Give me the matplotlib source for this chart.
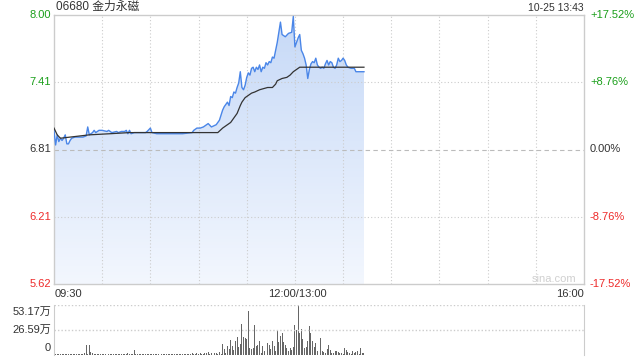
"""Intraday minute chart for 06680 (price, average price and volume)."""

import matplotlib

matplotlib.use("Agg")

import matplotlib.pyplot as plt
import numpy as np

FONT = ["Liberation Sans", "Noto Sans CJK SC", "DejaVu Sans"]
plt.rcParams["font.family"] = FONT

TITLE = "06680 金力永磁"
STAMP = "10-25 13:43"
PREV_CLOSE = 6.81
PRICE_TICKS = [8.00, 7.41, 6.81, 6.21, 5.62]
PCT_LABELS = ["+17.52%", "+8.76%", "0.00%", "-8.76%", "-17.52%"]
TIME_LABELS = ["09:30", "12:00/13:00", "16:00"]
TIME_POS = [0, 150, 330]
VOL_LABELS = ["53.17万", "26.59万", "0"]
VOL_MAX = 53.17
SESSION_MIN = 330

# minutes after 09:30 (lunch break removed) and last price
PRICE_MIN = [
    0, 1, 2, 3, 4, 5, 6, 7, 8, 9, 10, 11, 13, 15, 18, 20, 21, 22, 24, 25,
    26, 28, 30, 33, 34, 36, 39, 40, 42, 44, 45, 46, 47, 48, 50, 53, 57, 58, 60, 61,
    64, 70, 80, 86, 87, 89, 91, 93, 96, 98, 101, 103, 105, 106, 108, 109, 110, 111, 112, 113,
    114, 115, 116, 117, 118, 119, 120, 121, 122, 123, 124, 125, 126, 127, 128, 129, 130, 131, 132, 133,
    134, 135, 136, 137, 138, 139, 141, 142, 144, 146, 148, 149, 150, 151, 152, 153, 154, 155, 156, 157,
    158, 159, 160, 161, 162, 163, 164, 165, 166, 167, 168, 169, 170, 171, 172, 173, 174, 175, 176, 177,
    178, 179, 180, 181, 182, 183, 185, 187, 188, 190, 193,
]
PRICE = [
    6.98, 6.85, 6.94, 6.88, 6.91, 6.89, 6.91, 6.94, 6.86, 6.86, 6.89, 6.91, 6.92, 6.92, 6.92, 6.93, 7.01, 6.94, 6.96, 6.98,
    6.96, 6.98, 6.98, 6.97, 6.98, 6.96, 6.97, 6.96, 6.97, 6.97, 6.98, 6.95, 6.98, 6.95, 6.96, 6.96, 6.96, 6.97, 7.00, 6.96,
    6.95, 6.95, 6.95, 6.96, 6.98, 7.00, 7.00, 7.01, 7.04, 7.01, 7.03, 7.07, 7.16, 7.19, 7.23, 7.20, 7.28, 7.27, 7.32, 7.31,
    7.36, 7.40, 7.50, 7.36, 7.34, 7.38, 7.45, 7.49, 7.47, 7.53, 7.54, 7.50, 7.54, 7.52, 7.56, 7.50, 7.54, 7.53, 7.58, 7.56,
    7.59, 7.58, 7.63, 7.62, 7.69, 7.76, 7.94, 7.83, 7.81, 7.84, 7.85, 7.99, 7.72, 7.76, 7.80, 7.83, 7.69, 7.66, 7.62, 7.56,
    7.44, 7.52, 7.57, 7.59, 7.58, 7.62, 7.56, 7.54, 7.53, 7.54, 7.53, 7.57, 7.60, 7.56, 7.59, 7.58, 7.54, 7.53, 7.56, 7.62,
    7.59, 7.60, 7.62, 7.60, 7.56, 7.54, 7.53, 7.53, 7.50, 7.50, 7.50,
]

# average price line
AVG_MIN = [0, 2, 4, 10, 22, 35, 47, 66, 91, 102, 105, 110, 114, 116, 117, 119, 121, 123, 125,
           128, 133, 136, 138, 139, 142, 145, 146, 147, 149, 151, 153, 155, 193]
AVG = [7.00, 6.94, 6.91, 6.92, 6.94, 6.95, 6.96, 6.96, 6.96, 6.96, 7.00, 7.05, 7.13, 7.20, 7.23, 7.27, 7.29, 7.31, 7.32,
       7.34, 7.36, 7.36, 7.39, 7.42, 7.44, 7.45, 7.46, 7.47, 7.50, 7.52, 7.54, 7.54, 7.54]

# volume per minute, in units of 10 000 shares (minutes 0..193)
VOLUME = [
    1.2, 0.8, 0.6, 0.9, 0.5, 0.7, 0.6, 0.8, 0.5, 0.6, 0.7, 0.5, 0.8, 0.6, 0.9, 0.5, 0.6, 0.7, 1.0, 1.3,
    10.0, 0.8, 9.8, 2.9, 1.1, 0.7, 0.6, 0.8, 0.5, 0.9, 0.6, 0.7, 0.5, 0.8, 1.0, 0.6, 0.5, 0.7, 0.9, 0.6,
    0.8, 0.5, 0.7, 0.6, 0.9, 0.5, 1.1, 0.6, 0.8, 0.7, 4.7, 0.6, 0.5, 0.8, 0.7, 0.6, 0.9, 0.5, 0.7, 0.6,
    0.8, 0.6, 0.7, 0.5, 0.9, 0.6, 0.8, 0.5, 0.7, 1.0, 0.6, 0.8, 0.5, 0.7, 0.6, 0.9, 0.5, 0.8, 0.6, 0.7,
    1.0, 0.6, 0.8, 0.7, 0.9, 0.6, 1.1, 0.8, 0.7, 1.2, 0.9, 1.3, 1.0, 0.8, 1.4, 1.1, 2.5, 1.0, 1.2, 0.9,
    1.3, 1.1, 0.9, 2.2, 0.8, 11.1, 5.4, 1.8, 9.0, 5.4, 15.4, 9.0, 4.7, 14.7, 19.0, 8.3, 11.1, 32.7, 19.0, 18.0,
    16.5, 46.7, 6.5, 5.4, 6.5, 31.6, 9.0, 10.0, 14.7, 1.8, 9.0, 3.6, 3.9, 12.6, 10.0, 5.4, 14.7, 9.0, 3.9, 26.2,
    13.6, 19.7, 22.6, 13.6, 10.0, 7.5, 3.9, 7.5, 4.7, 8.3, 31.6, 26.2, 53.17, 23.3, 26.9, 16.2, 6.5, 8.3, 14.7, 30.5,
    22.6, 14.7, 8.3, 12.6, 3.9, 3.9, 17.2, 3.9, 2.2, 1.8, 5.4, 10.0, 4.7, 1.1, 1.1, 3.6, 3.6, 2.9, 1.1, 1.1,
    0.6, 6.5, 4.7, 2.9, 1.1, 0.7, 3.6, 1.1, 2.9, 3.9, 0.8, 6.5, 1.1, 1.1,
]

GREEN = "#1a9f1a"
RED = "#ee2a2a"
DARK = "#333333"
BLUE = "#4a86e8"
GRID = "#cccccc"


def _label_color(value: float) -> str:
    if value > PREV_CLOSE + 1e-9:
        return GREEN
    if value < PREV_CLOSE - 1e-9:
        return RED
    return DARK


def run() -> None:
    fig = plt.figure(figsize=(6.4, 3.6), dpi=100)
    ax = fig.add_axes([54 / 640, 1 - 284 / 360, 530 / 640, 269 / 360])
    vax = fig.add_axes([54 / 640, 1 - 354.5 / 360, 530 / 640, 49.5 / 360])

    lo = PREV_CLOSE * (1 - 0.1752)
    hi = PREV_CLOSE * (1 + 0.1752)

    # gradient fill under the price line
    poly = ax.fill_between(PRICE_MIN, PRICE, lo, color="none", linewidth=0)
    grad = np.linspace(0, 1, 256).reshape(-1, 1)
    img = ax.imshow(
        grad,
        extent=[0, SESSION_MIN, lo, max(PRICE)],
        origin="upper",
        aspect="auto",
        cmap=matplotlib.colors.LinearSegmentedColormap.from_list("f", ["#c6d9f7", "#f3f7fe"]),
        zorder=1,
    )
    img.set_clip_path(poly.get_paths()[0], transform=ax.transData)

    ax.plot(PRICE_MIN, PRICE, color=BLUE, linewidth=1.0, zorder=3)
    ax.plot(AVG_MIN, AVG, color=DARK, linewidth=0.9, zorder=4)

    ax.set_xlim(0, SESSION_MIN)
    ax.set_ylim(lo, hi)
    ax.set_xticks([])
    ax.set_yticks([])
    for x in range(30, SESSION_MIN, 30):
        ax.axvline(x, color=GRID, linestyle=(0, (1, 2)), linewidth=0.8, zorder=2)
    for y in (PRICE_TICKS[1], PRICE_TICKS[3]):
        ax.axhline(y, color=GRID, linestyle=(0, (1, 2)), linewidth=0.8, zorder=2)
    ax.axhline(PREV_CLOSE, color="#bbbbbb", linestyle=(0, (4, 3)), linewidth=0.8, zorder=2)
    for side in ax.spines.values():
        side.set_color(GRID)
        side.set_linewidth(1.0)

    for value, pct in zip(PRICE_TICKS, PCT_LABELS):
        color = _label_color(value)
        ax.text(-3 / 1.607, value, f"{value:.2f}", ha="right", va="center",
                fontsize=8, color=color, clip_on=False)
        ax.text(SESSION_MIN + 6 / 1.607, value, pct, ha="left", va="center",
                fontsize=8, color=color, clip_on=False)

    ax.text(0.003, 1.0 + 8 / 269, TITLE, transform=ax.transAxes, ha="left",
            va="center", fontsize=8.5, color=DARK)
    ax.text(1.0, 1.0 + 7 / 269, STAMP, transform=ax.transAxes, ha="right",
            va="center", fontsize=7.5, color=DARK)
    ax.text(0.985, 0.02, "sina.com", transform=ax.transAxes, ha="right",
            va="center", fontsize=8, color="#d0d0d0")

    for pos, label in zip(TIME_POS, TIME_LABELS):
        ha = "left" if pos == 0 else ("right" if pos == SESSION_MIN else "center")
        xpos = pos / SESSION_MIN + (1 / 530 if ha == "left" else 0) + (2 / 530 if ha == "center" else 0)
        ax.text(xpos, -10 / 269, label, transform=ax.transAxes,
                ha=ha, va="center", fontsize=8, color=DARK, clip_on=False)

    # volume panel
    minutes = np.arange(len(VOLUME))
    vax.bar(minutes, VOLUME, width=0.6, color="#666666", linewidth=0)
    vax.set_xlim(0, SESSION_MIN)
    vax.set_ylim(0, VOL_MAX)
    vax.set_xticks([])
    vax.set_yticks([])
    vax.axhline(VOL_MAX, color=GRID, linestyle=(0, (1, 1.5)), linewidth=1.0)
    vax.axhline(VOL_MAX / 2, color=GRID, linestyle=(0, (1, 1.5)), linewidth=1.0)
    vax.spines["top"].set_visible(False)
    vax.spines["bottom"].set_visible(False)
    vax.spines["left"].set_color(GRID)
    vax.spines["right"].set_color(GRID)
    for frac, label in zip([0.86, 0.495, 0.13], VOL_LABELS):
        vax.text(-3 / 530, frac, label, transform=vax.transAxes, ha="right",
                 va="center", fontsize=8, color=DARK)

    fig.savefig("out.png", dpi=100)
    plt.close(fig)


if __name__ == "__main__":
    run()
